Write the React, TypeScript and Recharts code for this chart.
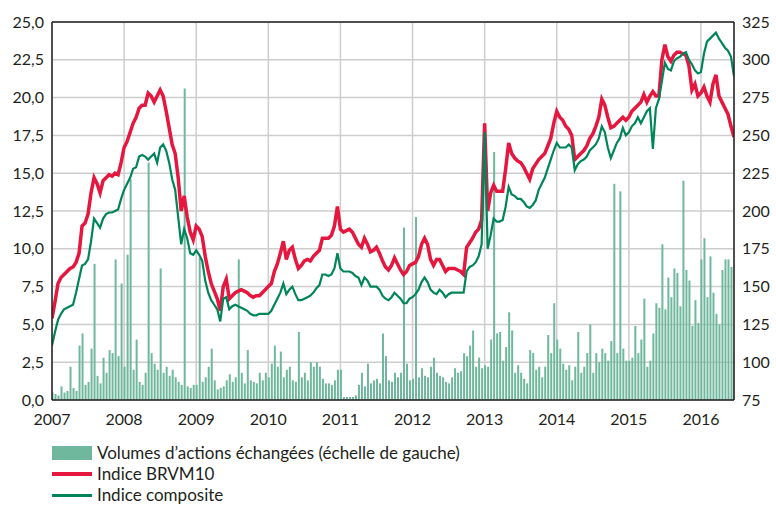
import React from "react"
import { ComposedChart, Bar, Line, XAxis, YAxis, CartesianGrid, ReferenceLine } from "recharts"

// semi-monthly readings, 24 per year, Jan 2007 -> mid-June 2016
const START_YEAR = 2007
const STEPS_PER_YEAR = 24

const yearTicks = [2007, 2008, 2009, 2010, 2011, 2012, 2013, 2014, 2015, 2016]
const volumeTicks = [0, 2.5, 5, 7.5, 10, 12.5, 15, 17.5, 20, 22.5, 25]
const indexTicks = [75, 100, 125, 150, 175, 200, 225, 250, 275, 300, 325]

// Volumes d'actions échangées (left scale)
const volumes = [
  0.5, 0.4, 0.3, 0.9, 0.5, 0.6, 2.2, 0.8, 0.6, 3.6, 4.4, 1.0, 1.2, 3.4, 9.0, 1.6, 1.1, 2.8, 1.8, 3.3, 3.1, 9.3, 2.9, 7.7,
  2.2, 9.6, 14.6, 2.0, 4.0, 1.2, 1.0, 1.8, 15.7, 3.1, 2.4, 2.0, 8.7, 1.8, 2.2, 1.6, 2.0, 1.5, 1.2, 1.0, 20.6, 0.9, 0.8, 1.0,
  1.0, 9.4, 1.2, 1.5, 2.2, 3.4, 1.3, 0.7, 0.8, 0.9, 1.3, 1.7, 1.2, 1.5, 9.3, 1.8, 1.1, 3.3, 1.3, 1.2, 1.1, 1.8, 1.3, 1.8,
  1.5, 2.4, 3.6, 2.2, 3.2, 1.5, 2.0, 2.2, 1.3, 1.2, 4.5, 1.5, 1.8, 1.3, 2.5, 2.2, 2.5, 2.2, 1.4, 1.1, 1.1, 1.0, 1.3, 2.0,
  2.0, 0.2, 0.2, 0.2, 0.2, 0.3, 1.0, 1.8, 0.9, 2.4, 1.1, 1.3, 1.4, 1.1, 4.4, 2.9, 1.3, 1.2, 1.8, 1.5, 1.8, 11.4, 2.4, 1.3,
  1.4, 12.1, 1.5, 2.1, 1.6, 1.5, 2.2, 2.8, 1.8, 1.6, 1.5, 1.2, 1.1, 1.5, 2.1, 1.8, 1.9, 3.1, 2.9, 3.6, 4.6, 2.2, 2.8, 2.1,
  2.3, 2.2, 4.0, 16.4, 4.4, 4.5, 2.6, 3.5, 5.8, 4.6, 1.8, 2.3, 1.8, 1.4, 1.1, 3.3, 3.1, 2.0, 2.2, 1.5, 2.2, 4.3, 3.1, 6.4,
  4.0, 3.4, 2.4, 2.0, 2.3, 1.3, 2.2, 4.5, 1.8, 2.2, 3.1, 5.0, 1.8, 3.1, 2.5, 3.4, 3.1, 2.6, 3.9, 14.3, 3.1, 13.8, 3.4, 2.6,
  2.6, 2.8, 4.9, 3.1, 4.0, 6.7, 2.2, 2.6, 4.4, 6.4, 6.1, 10.3, 6.0, 8.1, 6.8, 8.7, 8.4, 6.2, 14.5, 8.6, 7.9, 4.9, 6.6, 5.1,
  9.3, 10.7, 6.8, 9.5, 7.1, 5.7, 5.0, 8.6, 9.3, 9.3, 8.8, 3.1,
]

// Indice BRVM10 (right scale)
const brvm10 = [
  129, 140, 152, 156, 158, 160, 162, 163, 166, 172, 190, 192, 198, 212, 222, 218, 212, 220, 222, 224, 223, 225, 224, 232,
  242, 246, 252, 258, 262, 268, 270, 270, 278, 276, 272, 276, 280, 276, 266, 255, 244, 238, 222, 200, 210, 196, 186, 181,
  190, 188, 183, 170, 160, 152, 147, 142, 134, 150, 155, 142, 144, 146, 147, 148, 147, 146, 144, 143, 144, 144, 146, 148,
  150, 152, 160, 165, 172, 180, 168, 174, 176, 168, 162, 164, 167, 168, 167, 170, 172, 174, 182, 182, 182, 184, 190, 203,
  188, 186, 187, 188, 186, 182, 178, 176, 182, 178, 173, 174, 176, 172, 167, 163, 161, 164, 169, 165, 161, 158, 160, 164,
  165, 166, 170, 178, 182, 178, 168, 164, 168, 168, 164, 160, 162, 162, 162, 161, 160, 158, 176, 179, 182, 186, 188, 194,
  258, 200, 212, 217, 213, 213, 213, 228, 245, 238, 235, 233, 232, 229, 225, 221, 228, 231, 234, 236, 238, 243, 248, 258,
  266, 262, 260, 256, 254, 250, 234, 236, 238, 240, 243, 248, 251, 256, 262, 274, 270, 262, 255, 256, 258, 260, 262, 260,
  262, 266, 268, 270, 272, 277, 272, 276, 279, 276, 276, 300, 310, 302, 299, 303, 305, 305, 304, 303, 296, 280, 284, 276,
  278, 282, 276, 272, 284, 290, 276, 272, 268, 264, 256, 249,
]

// Indice composite (right scale)
const composite = [
  111, 120, 128, 132, 135, 136, 137, 138, 146, 155, 164, 165, 168, 180, 195, 192, 189, 195, 198, 199, 199, 200, 201, 208,
  214, 218, 222, 228, 229, 236, 237, 236, 234, 236, 238, 232, 242, 244, 240, 232, 221, 214, 196, 178, 188, 182, 172, 171,
  174, 171, 167, 154, 146, 141, 138, 135, 127, 142, 143, 135, 137, 138, 137, 136, 135, 134, 132, 131, 131, 132, 132, 132,
  132, 134, 138, 142, 146, 152, 145, 148, 150, 145, 141, 141, 142, 143, 144, 146, 149, 151, 158, 158, 157, 158, 162, 172,
  162, 160, 160, 160, 159, 157, 156, 151, 156, 154, 150, 150, 150, 148, 144, 142, 141, 143, 146, 144, 142, 139, 139, 142,
  143, 145, 148, 153, 156, 153, 148, 146, 145, 148, 146, 143, 145, 146, 146, 146, 146, 146, 160, 163, 164, 166, 170, 178,
  252, 175, 184, 195, 193, 193, 194, 203, 216, 211, 210, 208, 208, 206, 203, 202, 204, 207, 214, 218, 222, 228, 234, 240,
  245, 242, 242, 242, 244, 242, 227, 231, 233, 234, 236, 240, 242, 244, 248, 256, 252, 242, 235, 240, 245, 248, 255, 250,
  252, 256, 258, 262, 258, 262, 266, 268, 241, 268, 274, 286, 298, 294, 293, 299, 301, 302, 304, 305, 300, 297, 293, 291,
  292, 304, 312, 314, 316, 318, 314, 311, 308, 306, 302, 289,
]

const data = volumes.map((volume, i) => ({
  t: START_YEAR + i / STEPS_PER_YEAR,
  volume,
  brvm10: brvm10[i],
  composite: composite[i],
}))

const LAST_T = START_YEAR + (volumes.length - 1) / STEPS_PER_YEAR

const FONT = "Lato, 'Open Sans', sans-serif"
const INK = "#231f20"
const BAR_COLOR = "#6fb79d"
const RED = "#e5173f"
const GREEN = "#00855a"

const fmtComma = (v: number) => v.toFixed(1).replace(".", ",")

const tickStyle = { fill: INK, fontSize: 16, fontFamily: FONT }
const axisLine = { stroke: INK, strokeWidth: 1.5 }

function LegendRow({ top, swatch, label }: { top: number; swatch: React.ReactNode; label: string }) {
  return (
    <div style={{ position: "absolute", left: 52, top, height: 20, display: "flex", alignItems: "center" }}>
      <div style={{ width: 40, height: 20, display: "flex", alignItems: "center" }}>{swatch}</div>
      <span style={{ marginLeft: 5, fontSize: 17, lineHeight: "20px", color: INK, fontFamily: FONT, whiteSpace: "nowrap" }}>
        {label}
      </span>
    </div>
  )
}

export default function App() {
  return (
    <div style={{ position: "absolute", left: 0, top: 0, width: 776, height: 507, background: "#fff", overflow: "hidden" }}>
      <ComposedChart
        width={776}
        height={507}
        data={data}
        margin={{ top: 22, right: 0, bottom: 77, left: 0 }}
        barGap={0}
        barCategoryGap={0}
      >
        <CartesianGrid yAxisId="left" stroke="#cdcdcd" strokeWidth={1.5} />
        <XAxis
          dataKey="t"
          type="number"
          domain={[START_YEAR, LAST_T]}
          ticks={yearTicks}
          allowDataOverflow
          tickLine={false}
          axisLine={axisLine}
          tick={tickStyle}
          tickMargin={8}
          height={30}
        />
        <YAxis
          yAxisId="left"
          domain={[0, 25]}
          ticks={volumeTicks}
          tickFormatter={fmtComma}
          tickLine={false}
          axisLine={axisLine}
          tick={tickStyle}
          width={52}
        />
        <YAxis
          yAxisId="right"
          orientation="right"
          domain={[75, 325]}
          ticks={indexTicks}
          tickLine={false}
          axisLine={axisLine}
          tick={tickStyle}
          width={42}
        />
        <Bar yAxisId="left" dataKey="volume" fill={BAR_COLOR} barSize={2} isAnimationActive={false} />
        <Line
          yAxisId="right"
          dataKey="brvm10"
          type="linear"
          stroke={RED}
          strokeWidth={3.5}
          dot={false}
          isAnimationActive={false}
        />
        <Line
          yAxisId="right"
          dataKey="composite"
          type="linear"
          stroke={GREEN}
          strokeWidth={2.2}
          dot={false}
          isAnimationActive={false}
        />
        <ReferenceLine yAxisId="left" y={25} stroke={INK} strokeWidth={1.5} />
      </ComposedChart>

      <LegendRow
        top={443}
        label="Volumes d’actions échangées (échelle de gauche)"
        swatch={<div style={{ width: 40, height: 14, background: BAR_COLOR }} />}
      />
      <LegendRow
        top={464}
        label="Indice BRVM10"
        swatch={<div style={{ width: 40, height: 4, background: RED }} />}
      />
      <LegendRow
        top={485}
        label="Indice composite"
        swatch={<div style={{ width: 40, height: 3, background: GREEN }} />}
      />
    </div>
  )
}
